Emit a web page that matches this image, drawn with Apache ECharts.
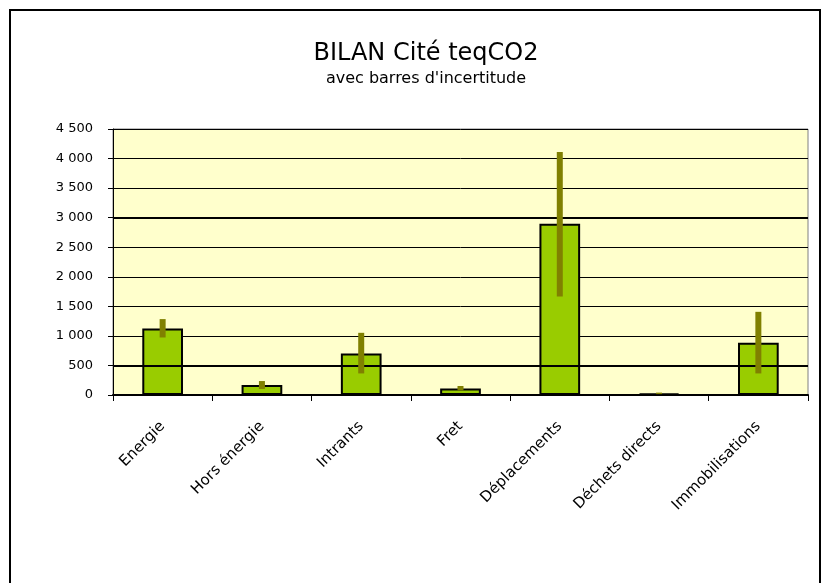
<!DOCTYPE html>
<html><head><meta charset="utf-8">
<script src="https://cdn.jsdelivr.net/npm/echarts@6/dist/echarts.min.js"></script>
<style>html,body{margin:0;padding:0;background:#fff}#c{width:821px;height:583px}</style>
</head><body><div id="c"></div>
<script>
const categories = ['Energie','Hors énergie','Intrants','Fret','Déplacements','Déchets directs','Immobilisations'];
const values = [1125, 169, 703, 111, 2899, 27, 883];
const errLow = [973, 101, 365, 78, 1666, 15, 365];
const errHigh = [1284, 236, 1052, 152, 4110, 40, 1407];
const yTicks = [0, 500, 1000, 1500, 2000, 2500, 3000, 3500, 4000, 4500];
const heavyGridValues = [500, 3000];

const chart = echarts.init(document.getElementById('c'), null, {renderer:'canvas'});
const font = 'DejaVu Sans, Liberation Sans, Arial, sans-serif';
chart.setOption({
  animation: false,
  backgroundColor: '#fff',
  title: {
    text: 'BILAN Cité teqCO2',
    subtext: "avec barres d'incertitude",
    left: 421, textAlign: 'center', top: 37, itemGap: 5,
    textStyle: {fontFamily: font, fontSize: 24, fontWeight: 'normal', color: '#000'},
    subtextStyle: {fontFamily: font, fontSize: 16, color: '#000'}
  },
  graphic: [{
    type: 'rect', shape: {x: 10, y: 10, width: 810, height: 600},
    style: {fill: 'none', stroke: '#000', lineWidth: 2}, silent: true, z: 100
  }],
  grid: {left: 113, right: 13, top: 129, bottom: 188, show: true,
    backgroundColor: '#FFFFCC', borderColor: '#808080', borderWidth: 1},
  xAxis: {
    type: 'category', data: categories,
    axisLine: {lineStyle: {color: '#000', width: 2}},
    axisTick: {show: true, length: 6, lineStyle: {color: '#000'}, alignWithLabel: false},
    axisLabel: {rotate: 45, margin: 29, fontFamily: font, fontSize: 15, color: '#000', interval: 0}
  },
  yAxis: {
    type: 'value', min: yTicks[0], max: yTicks[yTicks.length-1], interval: 500,
    axisLine: {show: true, lineStyle: {color: '#000', width: 1}},
    axisTick: {show: true, length: 5, lineStyle: {color: '#000'}},
    splitLine: {show: true, lineStyle: {color: '#000', width: 1}},
    axisLabel: {fontFamily: font, fontSize: 13, color: '#000', margin: 20,
      formatter: v => String(v).replace(/\B(?=(\d{3})+(?!\d))/g, ' ')}
  },
  series: [{
    type: 'line', data: [], z: 1, silent: true,
    markLine: {symbol: 'none', silent: true, label: {show: false},
      lineStyle: {color: '#000', width: 2, type: 'solid'},
      data: heavyGridValues.map(v => ({yAxis: v}))}
  }, {
    type: 'bar', data: values, barWidth: '41%', z: 2,
    itemStyle: {color: '#99CC00', borderColor: '#000', borderWidth: 2}
  }, {
    type: 'custom', z: 10,
    data: categories.map((c, i) => [i, errLow[i], errHigh[i]]),
    renderItem: (params, api) => {
      const lo = api.coord([api.value(0), api.value(1)]);
      const hi = api.coord([api.value(0), api.value(2)]);
      return {type: 'rect', shape: {x: lo[0] - 3, y: hi[1], width: 6, height: lo[1] - hi[1]},
        style: {fill: '#808000'}};
    }
  }]
});
</script></body></html>
